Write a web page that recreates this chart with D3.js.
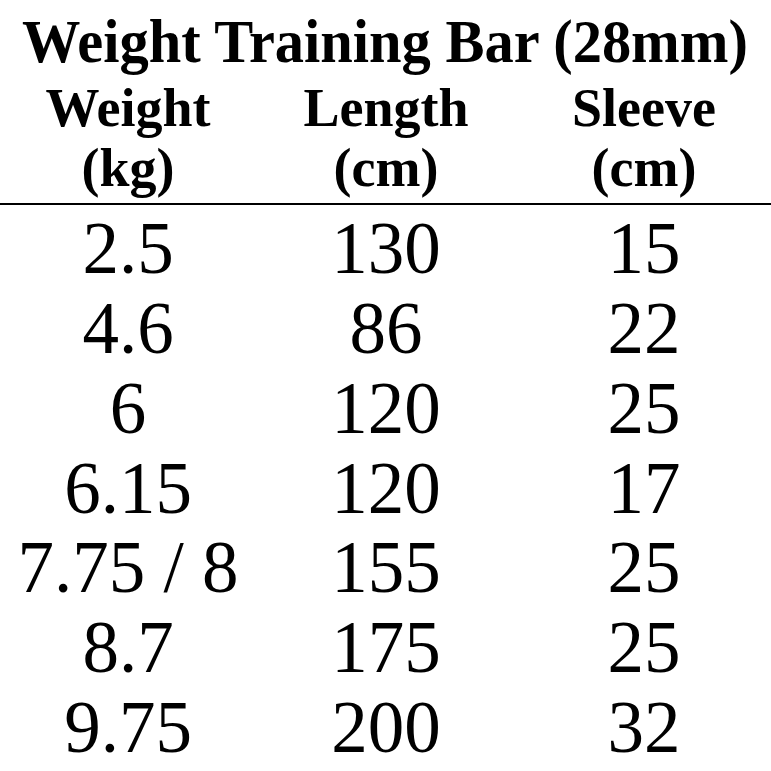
<!DOCTYPE html>
<html>
<head>
<meta charset="utf-8">
<script src="https://cdn.jsdelivr.net/npm/d3@7"></script>
<style>
  html, body { margin: 0; padding: 0; background: #fff; }
  svg { display: block; }
</style>
</head>
<body>
<svg id="chart" width="771" height="771"></svg>
<script>
const title = 'Weight Training Bar (28mm)';
const columns = ['weight', 'length', 'sleeve'];
const headerTop = ['Weight', 'Length', 'Sleeve'];
const headerUnits = ['(kg)', '(cm)', '(cm)'];
const weights = ['2.5', '4.6', '6', '6.15', '7.75 / 8', '8.7', '9.75'];
const lengths = [130, 86, 120, 120, 155, 175, 200];
const sleeves = [15, 22, 25, 17, 25, 25, 32];

const rows = weights.map((w, i) => ({ weight: w, length: lengths[i], sleeve: sleeves[i] }));

const width = 771;
const font = '"Liberation Serif", "Times New Roman", serif';

const svg = d3.select('#chart');
svg.append('rect').attr('width', width).attr('height', 771).attr('fill', '#fff');

// column centres and row baselines
const x = d3.scalePoint().domain(columns).range([128, 644]);
const y = d3.scalePoint().domain(d3.range(rows.length)).range([273, 752]);

// 1. title (slightly stretched vertically, like the reference)
svg.append('text')
  .attr('transform', 'translate(22,62) scale(1,1.1)')
  .attr('x', 0)
  .attr('y', 0)
  .attr('font-family', font)
  .attr('font-weight', 'bold')
  .attr('font-size', 56)
  .attr('textLength', 726)
  .attr('lengthAdjust', 'spacingAndGlyphs')
  .attr('fill', '#000')
  .text(title);

// 2. column headers
const head = svg.append('g').attr('class', 'headers')
  .attr('font-family', font)
  .attr('font-weight', 'bold')
  .attr('font-size', 54)
  .attr('text-anchor', 'middle')
  .attr('fill', '#000');

head.selectAll('.h1')
  .data(columns)
  .enter()
  .append('text')
  .attr('class', 'h1')
  .attr('x', (d) => x(d))
  .attr('y', 126)
  .text((d, i) => headerTop[i]);

head.selectAll('.h2')
  .data(columns)
  .enter()
  .append('text')
  .attr('class', 'h2')
  .attr('x', (d) => x(d))
  .attr('y', 186)
  .text((d, i) => headerUnits[i]);

// 3. rule under the header
svg.append('line')
  .attr('x1', 0)
  .attr('x2', width)
  .attr('y1', 204)
  .attr('y2', 204)
  .attr('stroke', '#000')
  .attr('stroke-width', 2);

// 4. table cells
const body = svg.append('g').attr('class', 'rows')
  .attr('font-family', font)
  .attr('font-size', 73)
  .attr('text-anchor', 'middle')
  .attr('fill', '#000');

const rowGroups = body.selectAll('.row')
  .data(rows)
  .enter()
  .append('g')
  .attr('class', 'row')
  .attr('transform', (d, i) => `translate(0,${y(i)})`);

rowGroups.selectAll('text')
  .data((d) => columns.map((c) => ({ col: c, value: d[c] })))
  .enter()
  .append('text')
  .attr('x', (d) => x(d.col))
  .attr('y', 0)
  .text((d) => d.value);
</script>
</body>
</html>
